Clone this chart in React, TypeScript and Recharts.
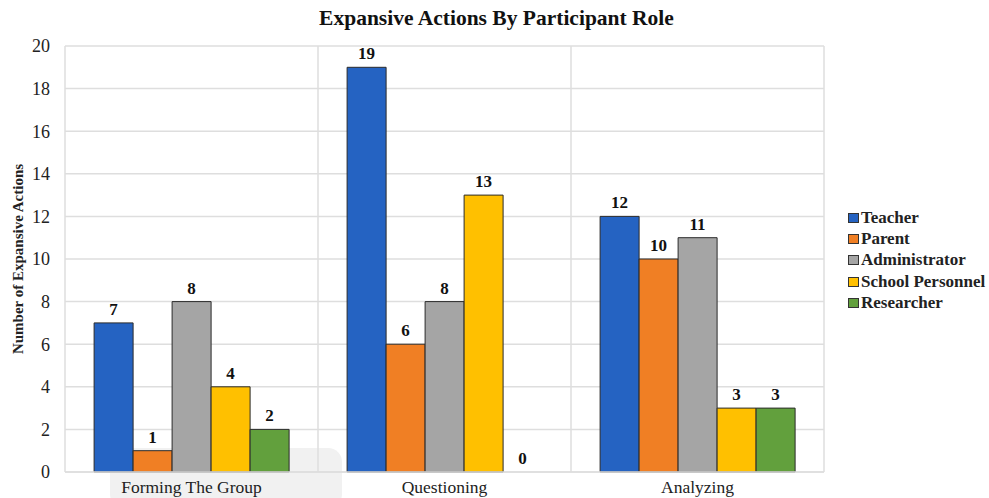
import React from "react";
import { BarChart, Bar, XAxis, YAxis, CartesianGrid, Legend, Label, Cell } from "recharts";

const categories = ["Forming The Group", "Questioning", "Analyzing"];
const teacher = [7, 19, 12];
const parent = [1, 6, 10];
const administrator = [8, 8, 11];
const schoolPersonnel = [4, 13, 3];
const researcher = [2, 0, 3];
const yTicks = [0, 2, 4, 6, 8, 10, 12, 14, 16, 18, 20];

const seriesDefs = [
  { key: "teacher", name: "Teacher", color: "#2563c2", values: teacher },
  { key: "parent", name: "Parent", color: "#f07f24", values: parent },
  { key: "administrator", name: "Administrator", color: "#a5a5a5", values: administrator },
  { key: "schoolPersonnel", name: "School Personnel", color: "#ffc000", values: schoolPersonnel },
  { key: "researcher", name: "Researcher", color: "#62a03d", values: researcher },
];

const data = categories.map((c, i) => {
  const row: any = { category: c };
  seriesDefs.forEach((s) => (row[s.key] = s.values[i]));
  return row;
});

const serif = "'Liberation Serif', 'DejaVu Serif', serif";

const LegendContent = () => (
  <div style={{ fontFamily: serif, fontSize: 17, fontWeight: 600, color: "#222" }}>
    {seriesDefs.map((s) => (
      <div key={s.key} style={{ display: "flex", alignItems: "center", height: 21.3 }}>
        <span
          style={{
            display: "inline-block",
            width: 9,
            height: 8,
            background: s.color,
            border: "1px solid #333",
            marginRight: 2,
          }}
        />
        <span>{s.name}</span>
      </div>
    ))}
  </div>
);

const ValueLabel = (props: any) => {
  const { x, y, width, value } = props;
  if (x == null || y == null) return null;
  return (
    <text
      x={Number(x) + Number(width) / 2}
      y={Number(y) - 8}
      textAnchor="middle"
      fontFamily={serif}
      fontSize={17}
      fontWeight="bold"
      fill="#111"
    >
      {value}
    </text>
  );
};

export default function App() {
  return (
    <div style={{ position: "absolute", left: 0, top: 0, width: 989, height: 498, background: "#fff", overflow: "hidden" }}>
      <div
        style={{
          position: "absolute",
          left: 110,
          top: 448,
          width: 232,
          height: 60,
          borderRadius: 14,
          background: "#f1f1f1",
        }}
      />
      <div
        style={{
          position: "absolute",
          left: 0,
          top: 6,
          width: 989,
          textAlign: "center",
          fontFamily: serif,
          fontWeight: "bold",
          fontSize: 21.5,
          color: "#111",
          paddingLeft: 2,
        }}
      >
        Expansive Actions By Participant Role
      </div>
      <div style={{ position: "absolute", left: 0, top: 0 }}>
        <BarChart
          width={989}
          height={498}
          data={data}
          margin={{ top: 46, right: 25, bottom: 0, left: 0 }}
          barCategoryGap="11.5%"
          barGap={0}
        >
          <CartesianGrid
            stroke="#dedede"
            strokeWidth={1.5}
            verticalCoordinatesGenerator={({ offset }: any) =>
              [0, 1, 2, 3].map((i) => offset.left + (offset.width * i) / categories.length)
            }
          />
          <XAxis
            dataKey="category"
            axisLine={{ stroke: "#dedede", strokeWidth: 1.5 }}
            tickLine={false}
            height={26}
            tick={{ fontFamily: serif, fontSize: 17.5, fill: "#222", dy: 1 }}
            interval={0}
          />
          <YAxis
            domain={[0, 20]}
            ticks={yTicks}
            width={65}
            axisLine={false}
            tickLine={false}
            tickMargin={9}
            tick={{ fontFamily: serif, fontSize: 18, fill: "#222" }}
          >
            <Label
              value="Number of Expansive Actions"
              angle={-90}
              position="insideLeft"
              dx={13}
              style={{ fontFamily: serif, fontSize: 15, fontWeight: "bold", fill: "#222", textAnchor: "middle" }}
            />
          </YAxis>
          <Legend
            layout="horizontal"
            verticalAlign="middle"
            align="right"
            content={LegendContent}
            wrapperStyle={{ left: 848, top: 207, width: 140, right: "auto" }}
          />
          {seriesDefs.map((s) => (
            <Bar
              key={s.key}
              dataKey={s.key}
              name={s.name}
              fill={s.color}
              stroke="#2b2b2b"
              strokeWidth={1}
              isAnimationActive={false}
              minPointSize={0.01}
              label={ValueLabel}
            >
              {s.values.map((v, i) => (
                <Cell key={i} stroke={v === 0 ? "none" : "#2b2b2b"} />
              ))}
            </Bar>
          ))}
        </BarChart>
      </div>
    </div>
  );
}
